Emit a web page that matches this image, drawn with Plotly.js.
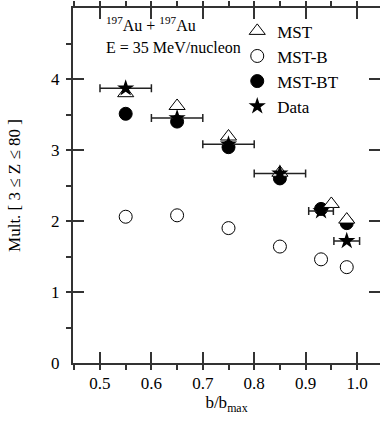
<!DOCTYPE html>
<html><head><meta charset="utf-8">
<script src="https://cdn.plot.ly/plotly-3.0.1.min.js"></script>
<style>html,body{margin:0;padding:0;background:#fff}#chart{width:380px;height:430px}
svg text, svg tspan{font-family:"Liberation Serif","Times New Roman",serif !important;}</style>
</head><body><div id="chart"></div>
<script>
var bCentres = [0.55, 0.65, 0.75, 0.85, 0.93, 0.98];
var mstX = [0.55, 0.65, 0.75, 0.85, 0.95, 0.98];
var mstY = [3.80, 3.62, 3.19, 2.68, 2.24, 2.02];
var mstBY = [2.06, 2.08, 1.90, 1.64, 1.46, 1.35];
var mstBTY = [3.51, 3.40, 3.04, 2.60, 2.17, 1.97];
var dataY = [3.87, 3.45, 3.08, 2.67, 2.14, 1.72];
var dataXErr = [0.05, 0.05, 0.05, 0.05, 0.024, 0.025];
var xTicks = [0.5, 0.6, 0.7, 0.8, 0.9, 1.0];
var xTickText = ['0.5', '0.6', '0.7', '0.8', '0.9', '1.0'];
var yTicks = [0, 1, 2, 3, 4, 5];

var F = 'Liberation Serif';
function fnt(s){ return {family:F, size:s, color:'#000'}; }
var traces = [
  {name:'MST-B', x:bCentres, y:mstBY, mode:'markers', type:'scatter', legendrank:2,
   marker:{symbol:'circle', size:13, color:'#fff', line:{color:'#000', width:1}}},
  {name:'MST-BT', x:bCentres, y:mstBTY, mode:'markers', type:'scatter', legendrank:3,
   marker:{symbol:'circle', size:13, color:'#000', line:{color:'#000', width:1}}},
  {name:'MST', x:mstX, y:mstY, mode:'markers', type:'scatter', legendrank:1,
   marker:{symbol:'triangle-up', size:14, color:'#fff', line:{color:'#000', width:1}}},
  {name:'Data', x:bCentres, y:dataY, mode:'markers', type:'scatter', legendrank:4,
   marker:{symbol:'star', size:13, color:'#000', line:{color:'#000', width:0}},
   error_x:{type:'data', array:dataXErr, visible:true, color:'#222', thickness:1.5, width:4}}
];
var layout = {
  width:380, height:430, margin:{l:73, r:0, t:8, b:67},
  paper_bgcolor:'#fff', plot_bgcolor:'#fff', showlegend:true,
  font:fnt(17),
  xaxis:{range:[0.4475, 1.0447], tickvals:xTicks, ticktext:xTickText, tickfont:fnt(17),
    showgrid:false, zeroline:false, showline:true, linecolor:'#333', linewidth:2,
    mirror:'allticks', ticks:'inside', ticklen:11, tickwidth:1.5, tickcolor:'#333',
    ticklabelstandoff:4,
    minor:{dtick:0.05, ticklen:5, tickwidth:1.5, tickcolor:'#333'},
    title:{text:'b/b<sub>max</sub>', font:fnt(17), standoff:4}},
  yaxis:{range:[0, 5], tickvals:yTicks, tickfont:fnt(17),
    showgrid:false, zeroline:false, showline:true, linecolor:'#333', linewidth:2,
    mirror:'allticks', ticks:'inside', ticklen:11, tickwidth:1.5, tickcolor:'#333',
    ticklabelstandoff:8,
    minor:{dtick:0.5, ticklen:5, tickwidth:1.5, tickcolor:'#333'},
    title:{text:'Mult. [ 3 \u2264 Z \u2264 80 ]', font:fnt(17), standoff:26}},
  legend:{x:0.535, y:0.985, xanchor:'left', yanchor:'top', bgcolor:'rgba(0,0,0,0)',
    font:fnt(17), itemwidth:30, tracegroupgap:0},
  annotations:[
    {xref:'paper', yref:'paper', x:0.1, y:0.955, xanchor:'left', yanchor:'middle', showarrow:false,
     text:'<sup>197</sup>Au + <sup>197</sup>Au', font:fnt(16)},
    {xref:'paper', yref:'paper', x:0.1, y:0.89, xanchor:'left', yanchor:'middle', showarrow:false,
     text:'E = 35 MeV/nucleon', font:fnt(16)}
  ]
};
Plotly.newPlot('chart', traces, layout, {displayModeBar:false});
</script></body></html>
